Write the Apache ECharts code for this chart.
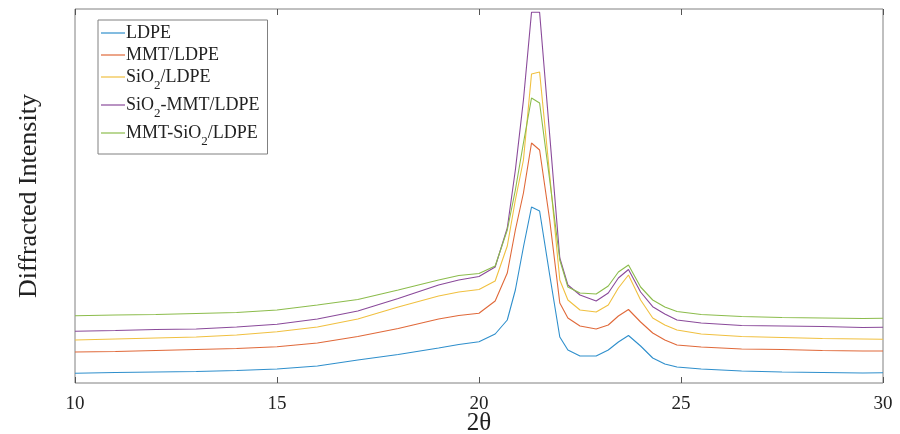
<!DOCTYPE html>
<html>
<head>
<meta charset="utf-8">
<script src="https://cdn.jsdelivr.net/npm/echarts@6/dist/echarts.min.js"></script>
<style>html,body{margin:0;padding:0;background:#fff}#c{width:900px;height:434px}</style>
</head>
<body>
<div id="c"></div>
<script>
var twoTheta = [10, 11, 12, 13, 14, 15, 16, 17, 18, 19, 19.5, 20, 20.4, 20.7, 20.9, 21.1, 21.3, 21.5, 21.75, 22.0, 22.2, 22.5, 22.9, 23.2, 23.45, 23.7, 24.0, 24.3, 24.6, 24.9, 25.5, 26.5, 27.5, 28.5, 29.5, 30];
var ldpe = [9.7, 10.5, 11, 11.5, 12.5, 14, 17, 23, 28.5, 35, 38.5, 41.3, 49, 63, 93, 136, 176, 172, 108, 46, 33, 27, 27, 33, 41, 47.5, 37, 25, 19, 16, 14, 12, 11, 10.5, 10, 10.3];
var mmtLdpe = [31, 31.5, 32.5, 33.5, 34.5, 36.3, 40, 46.5, 54.5, 64, 67.5, 69.7, 82, 110, 153, 190, 240, 233, 163, 80, 65, 57, 54, 58, 67, 73.5, 61, 50, 43, 38, 36, 34, 33.5, 32.5, 32, 32];
var sio2Ldpe = [43, 44, 45, 46, 48, 51.3, 56, 64, 76, 87, 91, 93.5, 102, 137, 183, 223, 309, 311, 208, 103, 83, 73, 71, 78, 95, 108, 83, 65, 58, 53, 49, 46.5, 45.5, 44.5, 44, 43.7];
var sio2MmtLdpe = [51.7, 52.5, 53.5, 54, 56, 58.7, 64, 72, 84.5, 98, 103, 106.5, 116, 155, 213, 283, 370.7, 370.7, 248, 125, 98, 88, 82, 90, 105, 113.5, 91, 76.3, 69, 63, 60, 57.5, 57, 56.5, 55.5, 55.7];
var mmtSio2Ldpe = [67.3, 68, 68.5, 69.5, 70.5, 73, 78, 83.5, 93, 103, 107.5, 109.5, 117, 153, 193, 240, 285, 280, 203, 123, 96, 90, 89, 97, 111, 118, 96, 83, 76, 71.5, 68.5, 66.5, 65.5, 65, 64.5, 64.7];
var seriesNames = ['LDPE', 'MMT/LDPE', 'SiO2/LDPE', 'SiO2-MMT/LDPE', 'MMT-SiO2/LDPE'];
var legendLabels = ['LDPE', 'MMT/LDPE', 'SiO{s|2}/LDPE', 'SiO{s|2}-MMT/LDPE', 'MMT-SiO{s|2}/LDPE'];
var xTicks = [10, 15, 20, 25, 30];

var allSeries = [ldpe, mmtLdpe, sio2Ldpe, sio2MmtLdpe, mmtSio2Ldpe];
var colors = ['#2f8fcc', '#e0693a', '#f0c040', '#8a4a9a', '#8cbc4c'];
var font = "'Liberation Serif','Times New Roman',serif";

function pairs(ys) { return twoTheta.map(function (x, i) { return [x, ys[i]]; }); }

var chart = echarts.init(document.getElementById('c'), null, {renderer: 'canvas'});
chart.setOption({
  animation: false,
  backgroundColor: '#fff',
  grid: {left: 75, right: 17, top: 9, bottom: 51, containLabel: false, outerBoundsMode: 'none',
    show: true, borderColor: '#808080', borderWidth: 1, backgroundColor: 'transparent'},
  legend: {
    orient: 'vertical', left: 98, top: 20,
    data: seriesNames.map(function (n) { return {name: n, icon: 'rect'}; }),
    itemWidth: 24, itemHeight: 1.2, itemGap: 4,
    padding: [4, 8, 6, 3],
    borderColor: '#808080', borderWidth: 1, backgroundColor: '#fff',
    formatter: function (n) { return legendLabels[seriesNames.indexOf(n)]; },
    textStyle: {
      fontFamily: font, fontSize: 18, color: '#222', padding: [0, 0, 0, -4],
      rich: {s: {fontFamily: font, fontSize: 13, color: '#222', padding: [17, 0, 0, 0], verticalAlign: 'top'}}
    }
  },
  xAxis: [{
    type: 'value', min: 10, max: 30, interval: 5, position: 'bottom',
    name: '2θ', nameLocation: 'middle', nameGap: 28, nameMoveOverlap: false,
    nameTextStyle: {fontFamily: font, fontSize: 25, color: '#222', verticalAlign: 'top'},
    axisLine: {show: false},
    axisTick: {show: true, inside: true, length: 6, lineStyle: {color: '#555'}},
    axisLabel: {fontFamily: font, fontSize: 19, color: '#222', margin: 12,
      formatter: function (v) { return xTicks.indexOf(v) >= 0 ? String(v) : ''; }},
    splitLine: {show: false}
  }, {
    type: 'value', min: 10, max: 30, interval: 5, position: 'top',
    axisLine: {show: false},
    axisTick: {show: true, inside: true, length: 6, lineStyle: {color: '#555'}},
    axisLabel: {show: false}, splitLine: {show: false}
  }],
  yAxis: {
    type: 'value', min: 0, max: 374,
    name: 'Diffracted Intensity', nameLocation: 'middle', nameGap: 33, nameMoveOverlap: false,
    nameTextStyle: {fontFamily: font, fontSize: 26, color: '#222'},
    axisLine: {show: false}, axisTick: {show: false}, axisLabel: {show: false}, splitLine: {show: false}
  },
  series: allSeries.map(function (ys, i) {
    return {
      name: seriesNames[i], type: 'line', data: pairs(ys), symbol: 'none',
      lineStyle: {color: colors[i], width: 1.1}, itemStyle: {color: colors[i]}
    };
  })
});
</script>
</body>
</html>
